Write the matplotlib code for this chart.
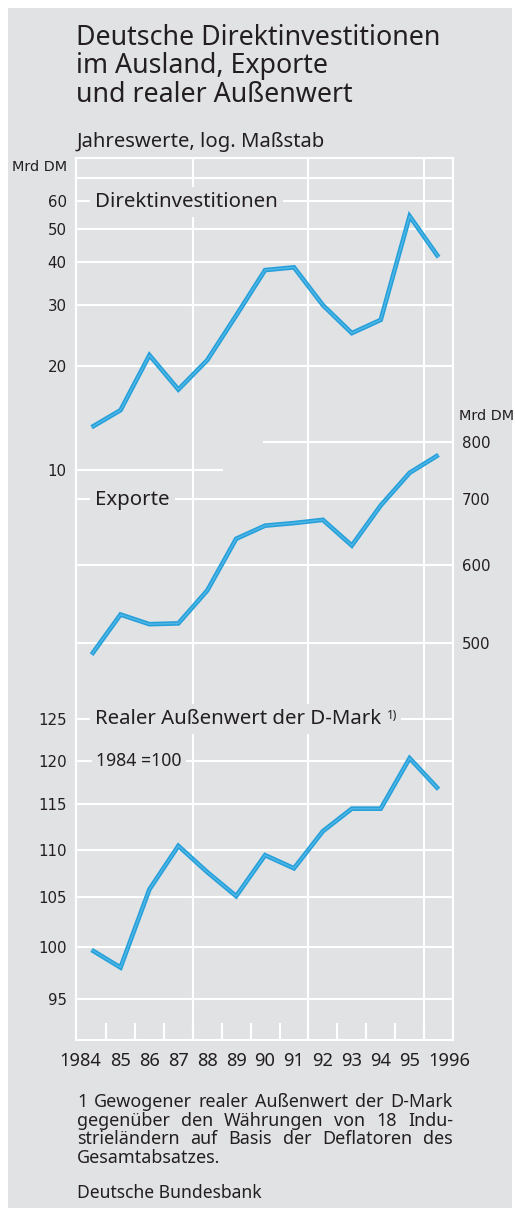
import numpy as np
import matplotlib
matplotlib.use('Agg')
import matplotlib.pyplot as plt
import matplotlib.patheffects as pe
from matplotlib.patches import Rectangle
from matplotlib.ticker import NullLocator, FixedLocator, FixedFormatter

# --- data ------------------------------------------------------------------
YEARS = np.arange(1984, 1997)
YEAR_LABELS = ['1984', '85', '86', '87', '88', '89', '90', '91', '92', '93',
               '94', '95', '1996']
DIREKTINVEST = [13.3, 14.9, 21.5, 17.1, 20.8, 28.0, 37.9, 38.6, 30.0, 24.9,
                27.2, 54.3, 41.3]
EXPORTE = [486, 534, 522, 523, 565, 638, 658, 662, 667, 628, 690, 745, 777]
AUSSENWERT = [99.7, 98.0, 105.8, 110.4, 107.6, 105.1, 109.4, 108.0, 112.0,
              114.5, 114.5, 120.3, 116.7]

DI_TICKS = [10, 20, 30, 40, 50, 60]
DI_GRID = [20, 30, 40, 50, 60, 70]
EXP_TICKS = [500, 600, 700, 800]
AW_TICKS = [95, 100, 105, 110, 115, 120, 125]
SEPARATORS = [1987.5, 1991.5, 1995.5]

# --- layout ----------------------------------------------------------------
W, H = 515, 1208
BG = '#e1e2e4'
INK = '#231f20'
LINE = '#2aa5dd'
GRID_LW = 1.5
TXT = 'Noto Sans'
NARROW = ['Liberation Sans Narrow', 'DejaVu Sans']


def fx(px):
    return px / W


def fy(py):
    return 1 - py / H


fig = plt.figure(figsize=(W / 100, H / 100), dpi=100, facecolor='white')
fig.add_artist(Rectangle((fx(8), 0), fx(512) - fx(8), fy(8), transform=fig.transFigure,
                         facecolor=BG, edgecolor='none', zorder=0))

left, right, top, bottom = 75.7, 453, 158, 1040
rect = [fx(left), fy(bottom), fx(right) - fx(left), (bottom - top) / H]

ax = fig.add_axes(rect)
ax.patch.set_visible(False)
ax_exp = ax.twinx()
ax_aw = ax.twinx()

ax.set_xlim(1983.45, 1996.5)
ax.set_yscale('log')
ax.set_ylim(0.224, 80)
ax_exp.set_yscale('log')
ax_exp.set_ylim(196.5, 1561)
ax_aw.set_yscale('log')
ax_aw.set_ylim(91.28, 216.6)

for a in (ax, ax_exp, ax_aw):
    a.yaxis.set_minor_locator(NullLocator())
    for s in a.spines.values():
        s.set_visible(False)
for s in ax.spines.values():
    s.set_visible(True)
    s.set_color('white')
    s.set_linewidth(GRID_LW)
    s.set_zorder(0.5)

ax.yaxis.set_major_locator(FixedLocator(DI_TICKS))
ax.yaxis.set_major_formatter(FixedFormatter([str(t) for t in DI_TICKS]))
ax_exp.yaxis.set_major_locator(FixedLocator(EXP_TICKS))
ax_exp.yaxis.set_major_formatter(FixedFormatter([str(t) for t in EXP_TICKS]))
ax_aw.yaxis.tick_left()
ax_aw.yaxis.set_major_locator(FixedLocator(AW_TICKS))
ax_aw.yaxis.set_major_formatter(FixedFormatter([str(t) for t in AW_TICKS]))
for a in (ax, ax_exp, ax_aw):
    a.tick_params(axis='y', length=0, pad=6.5, labelsize=10.8, labelcolor=INK)
    for lab in a.get_yticklabels():
        lab.set_family(NARROW)

# x axis: boundary ticks only, labels drawn by hand
ax.set_xticks([])
ax.set_xticks(YEARS[:-1] + 0.5, minor=True)
ax.tick_params(axis='x', which='minor', direction='in', length=12.3, width=GRID_LW,
               color='white', labelbottom=False)

# grid lines
for sx in SEPARATORS:
    ax.axvline(sx, color='white', lw=GRID_LW, zorder=0.5)
for v in DI_GRID:
    ax.axhline(v, color='white', lw=GRID_LW, zorder=0.5)
ax.axhline(10, xmin=0, xmax=0.387, color='white', lw=GRID_LW, zorder=0.5)
for v in EXP_TICKS:
    ax_exp.axhline(v, xmin=0.499 if v == 800 else 0, color='white', lw=GRID_LW, zorder=0.5)
for v in AW_TICKS:
    ax_aw.axhline(v, color='white', lw=GRID_LW, zorder=0.5)

# series
effects = [pe.Stroke(linewidth=3.3, foreground='#259fd9'),
           pe.Stroke(linewidth=1.1, foreground='#4db6e6')]
for a, vals in ((ax, DIREKTINVEST), (ax_exp, EXPORTE), (ax_aw, AUSSENWERT)):
    a.plot(YEARS, vals, color=LINE, lw=3.3, solid_joinstyle='miter',
           solid_capstyle='butt', path_effects=effects, zorder=3)

# series labels, boxed to interrupt the grid
box = dict(boxstyle='square,pad=0.25', facecolor=BG, edgecolor='none')
ax.text(fx(95), fy(202), 'Direktinvestitionen', transform=fig.transFigure,
        ha='left', va='center', fontsize=14.7, family=TXT, color=INK, bbox=box, zorder=2)
ax_exp.text(fx(95), fy(500), 'Exporte', transform=fig.transFigure,
            ha='left', va='center', fontsize=14.7, family=TXT, color=INK, bbox=box, zorder=2)
aw_lab = ax_aw.text(fx(95), fy(719), 'Realer Außenwert der D-Mark', transform=fig.transFigure,
                    ha='left', va='center', fontsize=14.7, family=TXT, color=INK,
                    bbox=box, zorder=2)
ax_aw.annotate('1)', xy=(1, 0.5), xycoords=aw_lab, xytext=(4.5, 2.5),
               textcoords='offset points', ha='left', va='center', fontsize=8.5,
               fontweight='bold', family=TXT, color=INK, bbox=box, zorder=2)
ax_aw.text(fx(96), fy(761), '1984 =100', transform=fig.transFigure,
           ha='left', va='center', fontsize=12.7, family=TXT, color=INK, bbox=box, zorder=2)

# year labels
for yr, lab in zip(YEARS, YEAR_LABELS):
    dx = -7.9 if yr == YEARS[0] else (7.9 if yr == YEARS[-1] else 0)
    ax.annotate(lab, xy=(yr, 0), xycoords=('data', 'axes fraction'),
                xytext=(dx, -18.7), textcoords='offset points', ha='center',
                va='baseline', fontsize=13.2, family=TXT, color=INK)

# titles and units
for py, line in zip((45, 73.3, 101.5), ('Deutsche Direktinvestitionen',
                                        'im Ausland, Exporte',
                                        'und realer Außenwert')):
    fig.text(fx(76), fy(py), line, ha='left', va='baseline', fontsize=19.3,
             family=TXT, color=INK)
fig.text(fx(76.5), fy(146.5), 'Jahreswerte, log. Maßstab', ha='left', va='baseline',
         fontsize=14.6, family=TXT, color=INK)
fig.text(fx(12), fy(171), 'Mrd DM', ha='left', va='baseline', fontsize=10.4,
         family=NARROW, color=INK)
fig.text(fx(459), fy(420), 'Mrd DM', ha='left', va='baseline', fontsize=10.4,
         family=NARROW, color=INK)

# footnote, justified by hand
renderer = fig.canvas.get_renderer()


def justified_line(tokens, x0, x1, py, size, justify=True):
    texts = []
    for word, weight in tokens:
        t = fig.text(0, fy(py), word, ha='left', va='baseline', fontsize=size,
                     family=TXT, color=INK, fontweight=weight)
        texts.append(t)
    widths = [t.get_window_extent(renderer).width for t in texts]
    probe_a = fig.text(0, 0, 'a a', fontsize=size, family=TXT)
    probe_b = fig.text(0, 0, 'aa', fontsize=size, family=TXT)
    space = probe_a.get_window_extent(renderer).width - probe_b.get_window_extent(renderer).width
    probe_a.remove()
    probe_b.remove()
    if justify and len(texts) > 1:
        gap = (x1 - x0 - sum(widths)) / (len(texts) - 1)
    else:
        gap = space
    x = x0
    for t, w in zip(texts, widths):
        t.set_x(fx(x))
        x += w + gap


FN_SIZE = 12.9
foot = [
    ([('1', 'bold')] + [(w, 'normal') for w in 'Gewogener realer Außenwert der D-Mark'.split()], True),
    ([(w, 'normal') for w in 'gegenüber den Währungen von 18 Indu-'.split()], True),
    ([(w, 'normal') for w in 'strieländern auf Basis der Deflatoren des'.split()], True),
    ([(w, 'normal') for w in 'Gesamtabsatzes.'.split()], False),
]
for i, (tokens, just) in enumerate(foot):
    justified_line(tokens, 77, 453, 1107 + i * 18.6, FN_SIZE, just)

fig.text(fx(77), fy(1198), 'Deutsche Bundesbank', ha='left', va='baseline',
         fontsize=12.6, family=TXT, color=INK)

fig.savefig('out.png', dpi=100, facecolor='white')
